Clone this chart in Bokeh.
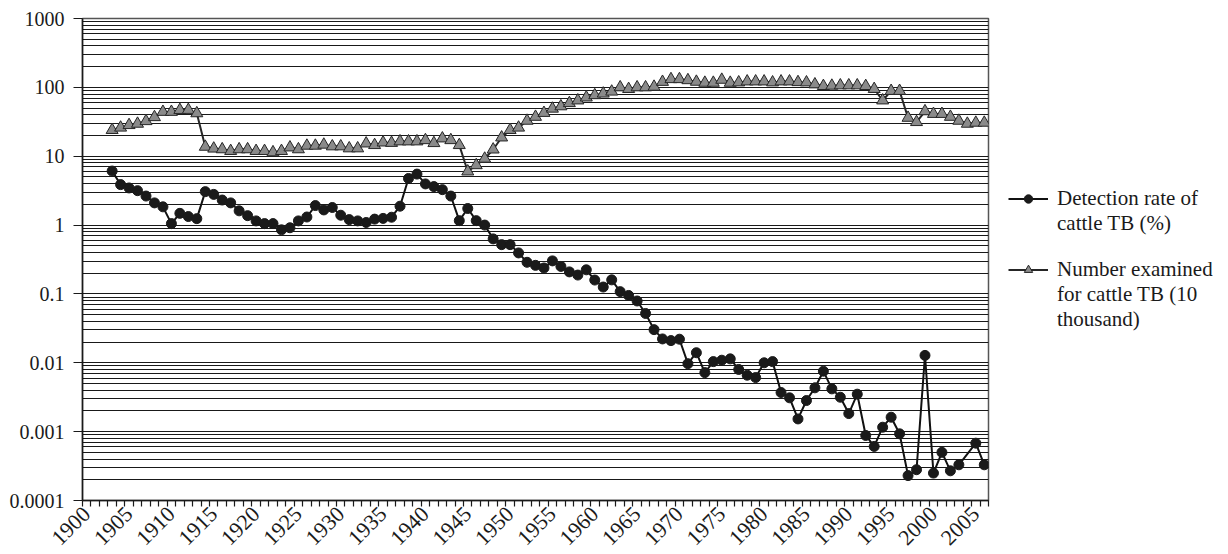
import math
from bokeh.plotting import figure
from bokeh.models import Range1d, FixedTicker, Legend, LegendItem, ColumnDataSource
from bokeh.embed import file_html
from bokeh.resources import INLINE

years = list(range(1903, 2007))

detection_rate = [
    6.09, 3.87, 3.46, 3.16, 2.64, 2.10, 1.84, 1.05, 1.48, 1.33,
    1.24, 3.06, 2.79, 2.31, 2.10, 1.61, 1.37, 1.15, 1.05, 1.05,
    0.853, 0.914, 1.15, 1.31, 1.92, 1.66, 1.80, 1.39, 1.20, 1.15,
    1.09, 1.22, 1.25, 1.30, 1.88, 4.75, 5.50, 3.96, 3.62, 3.27,
    2.64, 1.16, 1.74, 1.16, 1.00, 0.63, 0.52, 0.52, 0.394, 0.288,
    0.26, 0.238, 0.302, 0.251, 0.209, 0.188, 0.224, 0.159, 0.126, 0.160,
    0.108, 0.0950, 0.0790, 0.0520, 0.0303, 0.0222, 0.0210, 0.0220, 0.0097, 0.0140,
    0.0072, 0.0104, 0.0109, 0.0114, 0.0080, 0.0066, 0.0061, 0.0100, 0.0104, 0.0037,
    0.0031, 0.00153, 0.00283, 0.00433, 0.00755, 0.00418, 0.00316, 0.00183, 0.0035, 0.00088,
    0.00061, 0.00116, 0.00162, 0.00093, 0.00023, 0.00028, 0.0128, 0.00025, 0.0005, 0.00027,
    0.00033, None, 0.00068, 0.00033,
]

number_examined = [
    24, 26, 28.3, 29.6, 32.3, 36.9, 44, 44, 46.9, 47,
    42, 13.7, 12.9, 12.6, 11.9, 12.6, 12.6, 11.9, 11.9, 11.4,
    11.9, 13.4, 12.6, 14.2, 14.2, 14.7, 13.9, 13.9, 13.0, 13.0,
    15.3, 14.5, 15.8, 15.6, 16.4, 16.4, 16.4, 17.1, 15.5, 18.1,
    17.1, 14.5, 6.0, 7.4, 9.2, 12.5, 18.7, 24, 26, 32.7,
    37.3, 42.5, 49, 53, 59, 64.5, 71.2, 76.9, 81.2, 86.7,
    100, 94.6, 100, 100, 102, 120, 131.5, 131.5, 127, 120.5,
    116.5, 116.5, 128.8, 116.5, 117.9, 121.8, 121.8, 121.8, 117.9, 121.8,
    121.8, 119, 117.9, 110.4, 104.5, 105.6, 106.8, 106.8, 106.8, 104.5,
    94.6, 64.5, 88.7, 88.7, 36.1, 31.3, 44.9, 41.1, 41.1, 37.3,
    32.7, 29.6, 30.6, 30.6,
]

axis_first_year = 1900
axis_last_year = 2006
x_label_years = list(range(1900, 2006, 5))
y_tick_values = [0.0001, 0.001, 0.01, 0.1, 1, 10, 100, 1000]
y_tick_labels = ["0.0001", "0.001", "0.01", "0.1", "1", "10", "100", "1000"]

legend_detection_lines = ["Detection rate of", "cattle TB (%)"]
legend_number_lines = ["Number examined", "for cattle TB (10", "thousand)"]

SERIF = "Liberation Serif"
INK = "#1a1a1a"

det_pairs = [(y, v) for y, v in zip(years, detection_rate) if v is not None]
det_src = ColumnDataSource(dict(x=[a for a, _ in det_pairs], y=[b for _, b in det_pairs]))
num_src = ColumnDataSource(dict(x=years, y=number_examined))

p = figure(
    frame_width=906, frame_height=482,
    x_range=Range1d(axis_first_year - 0.5, axis_last_year + 0.5),
    y_range=Range1d(y_tick_values[0], y_tick_values[-1]),
    y_axis_type="log",
    output_backend="svg", toolbar_location=None,
    min_border_left=82, min_border_right=0, min_border_top=18, min_border_bottom=50,
    background_fill_color="white", border_fill_color="white",
)
p.outline_line_color = "#555555"
p.outline_line_width = 1.5

# x axis
p.xaxis.ticker = FixedTicker(
    ticks=x_label_years,
    minor_ticks=[y + 0.5 for y in range(axis_first_year - 1, axis_last_year + 1)],
)
p.xaxis.major_label_overrides = {yr: str(yr) for yr in x_label_years}
p.xaxis.major_label_orientation = math.pi / 4
p.xaxis.major_tick_out = 6
p.xaxis.major_tick_in = 0
p.xaxis.major_tick_line_color = None
p.xaxis.minor_tick_out = 6
p.xaxis.minor_tick_in = 0
p.xaxis.minor_tick_line_color = INK
p.xaxis.minor_tick_line_width = 1.2
p.xaxis.major_label_standoff = 4
p.xaxis.axis_line_color = INK
p.xaxis.axis_line_width = 1.5
p.xaxis.major_label_text_font = SERIF
p.xaxis.major_label_text_font_size = "22px"
p.xaxis.major_label_text_color = INK
p.xgrid.grid_line_color = None

# y axis
p.yaxis.ticker = FixedTicker(
    ticks=y_tick_values,
    minor_ticks=[k * 10.0 ** n for n in range(-4, 3) for k in range(2, 10)],
)
p.yaxis.major_label_overrides = dict(zip(y_tick_values, y_tick_labels))
p.yaxis.major_tick_out = 9
p.yaxis.major_tick_in = 0
p.yaxis.major_tick_line_color = INK
p.yaxis.major_tick_line_width = 1.2
p.yaxis.minor_tick_out = 0
p.yaxis.minor_tick_in = 0
p.yaxis.minor_tick_line_color = None
p.yaxis.major_label_standoff = 9
p.yaxis.axis_line_color = INK
p.yaxis.axis_line_width = 1.5
p.yaxis.major_label_text_font = SERIF
p.yaxis.major_label_text_font_size = "20px"
p.yaxis.major_label_text_color = INK
p.ygrid.grid_line_color = "#000000"
p.ygrid.grid_line_width = 1
p.ygrid.grid_line_alpha = 0.9
p.ygrid.minor_grid_line_color = "#000000"
p.ygrid.minor_grid_line_width = 1
p.ygrid.minor_grid_line_alpha = 0.9

# series
num_line = p.line("x", "y", source=num_src, line_color="#262626", line_width=2)
num_pts = p.scatter("x", "y", source=num_src, marker="triangle", size=12,
                    fill_color="#8a8a8a", line_color="#262626", line_width=1)
det_line = p.line("x", "y", source=det_src, line_color="#111111", line_width=2)
det_pts = p.scatter("x", "y", source=det_src, marker="circle", size=10,
                    fill_color="#1a1a1a", line_color="#1a1a1a")

# invisible renderer used for the continuation lines of the legend labels
blank = p.line(x=[], y=[], line_alpha=0)

items = [LegendItem(label=legend_detection_lines[0], renderers=[det_line, det_pts])]
items += [LegendItem(label=t, renderers=[blank]) for t in legend_detection_lines[1:]]
items.append(LegendItem(label=" ", renderers=[blank]))
items.append(LegendItem(label=legend_number_lines[0], renderers=[num_line, num_pts]))
items += [LegendItem(label=t, renderers=[blank]) for t in legend_number_lines[1:]]

legend = Legend(
    items=items,
    location="left",
    orientation="vertical",
    label_text_font=SERIF,
    label_text_font_size="21px",
    label_text_color=INK,
    label_height=21,
    glyph_width=40,
    glyph_height=21,
    label_standoff=9,
    spacing=0,
    padding=0,
    margin=20,
    border_line_color=None,
    background_fill_alpha=0,
)
p.add_layout(legend, "right")

open("out.html", "w").write(file_html(p, INLINE))
